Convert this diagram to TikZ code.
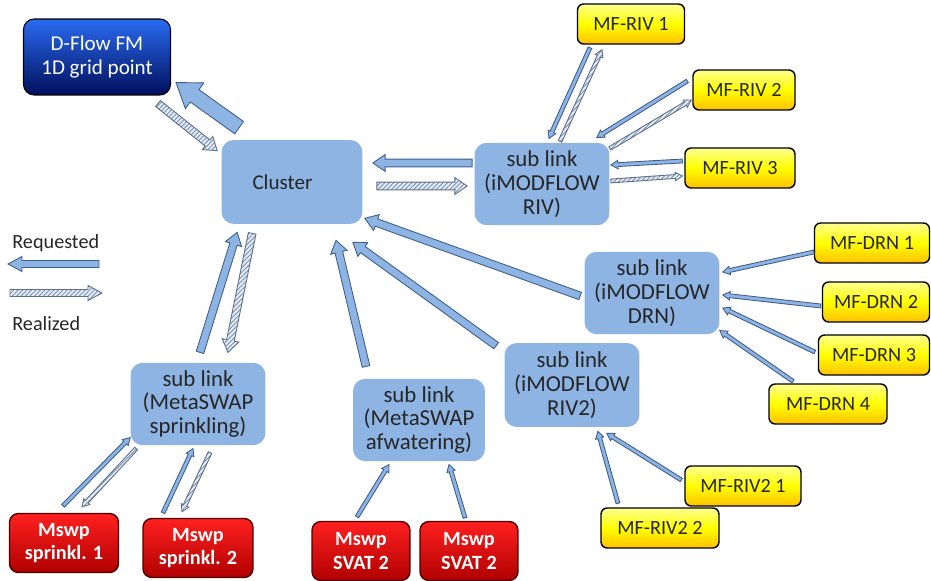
\documentclass[tikz,border=0pt]{standalone}
\usepackage{fontspec}
\setmainfont{Carlito}
\usetikzlibrary{calc,patterns.meta}

\definecolor{subfill}{HTML}{8EB4E3}
\definecolor{reqedge}{HTML}{3F5E8C}
\definecolor{reafill}{HTML}{E4ECF6}
\definecolor{realine}{HTML}{7B8FAE}
\definecolor{reaedge}{HTML}{5F6F86}
\definecolor{flowtop}{HTML}{2A6BF2}
\definecolor{flowbot}{HTML}{000E5C}
\definecolor{mftop}{HTML}{FFFF90}
\definecolor{mfbot}{HTML}{FFC000}
\definecolor{swtop}{HTML}{FF2020}
\definecolor{swbot}{HTML}{B00000}
\definecolor{txt}{HTML}{262626}

% block arrow: style, size, from, to
\newcommand\flowarrow[4]{%
  \begin{scope}[#2]
    \coordinate (fa) at #3;
    \coordinate (fb) at #4;
    \coordinate (fh) at ($(fb)!\arrhl!(fa)$);
    \draw[#1] ($(fa)!\arrsw!90:(fb)$) -- ($(fh)!\arrsw!-90:(fa)$)
      -- ($(fh)!\arrhw!-90:(fa)$) -- (fb) -- ($(fh)!\arrhw!90:(fa)$)
      -- ($(fh)!\arrsw!90:(fa)$) -- ($(fa)!\arrsw!-90:(fb)$) -- cycle;
  \end{scope}}

\tikzset{
  bigarr/.code={\def\arrsw{4.3pt}\def\arrhw{9pt}\def\arrhl{13pt}},
  midarr/.code={\def\arrsw{2.2pt}\def\arrhw{4.8pt}\def\arrhl{7pt}},
  legarr/.code={\def\arrsw{2pt}\def\arrhw{4.3pt}\def\arrhl{8pt}},
  thinarr/.code={\def\arrsw{1.1pt}\def\arrhw{2.4pt}\def\arrhl{4pt}},
  req/.style={fill=subfill, draw=reqedge, line width=0.5pt, line join=miter},
  rea/.style={preaction={fill=reafill}, pattern={Lines[angle=45,distance=1.8pt,line width=0.5pt]},
    pattern color=realine, draw=reaedge, line width=0.5pt},
}

\begin{document}
\begin{tikzpicture}[x=0.02cm, y=-0.02cm,
  sublink/.style={rectangle, rounded corners=7pt, fill=subfill, text=txt, align=center,
    font=\fontsize{13}{13.5}\selectfont, minimum width=2.7cm, minimum height=1.65cm, inner sep=2pt},
  mfbox/.style={rectangle, rounded corners=3.5pt, draw=black, line width=0.8pt,
    top color=mftop, bottom color=mfbot, middle color=yellow, text=txt,
    font=\fontsize{11.5}{13}\selectfont, minimum height=0.8cm, inner sep=1pt},
  swbox/.style={rectangle, rounded corners=5pt, draw=black!70!red, line width=0.8pt,
    top color=swtop, bottom color=swbot, text=white, align=center,
    font=\bfseries\fontsize{11.5}{13.5}\selectfont, minimum width=2.18cm, minimum height=1.18cm, inner sep=1pt},
  flowbox/.style={rectangle, rounded corners=6pt, draw=black, line width=0.6pt,
    top color=flowtop, bottom color=flowbot, text=white, align=center,
    font=\fontsize{12}{14}\selectfont, minimum width=2.94cm, minimum height=1.52cm},
  legend/.style={text=txt, font=\fontsize{11.5}{13}\selectfont, inner sep=0pt, anchor=west}]
\useasboundingbox (0,0) rectangle (931,581);

% boxes
\node[flowbox] (dflow) at (97,57) {D-Flow FM\\1D grid point};
\node[sublink, minimum height=1.68cm, text width=1.58cm, inner xsep=0.62cm, align=left,
  font=\fontsize{12}{13.5}\selectfont] (clu) at (292,182) {Cluster};
\node[sublink] (riv) at (542,184) {sub link\\(iMODFLOW\\RIV)};
\node[sublink] (drn) at (652,293) {sub link\\(iMODFLOW\\DRN)};
\node[sublink, minimum height=1.68cm] (riv2l) at (572,385) {sub link\\(iMODFLOW\\RIV2)};
\node[sublink] (spr) at (198,404) {sub link\\(MetaSWAP\\sprinkling)};
\node[sublink, minimum width=2.64cm] (afw) at (419,420) {sub link\\(MetaSWAP\\afwatering)};

\node[mfbox, minimum width=2.14cm] (riv1) at (631,24) {MF-RIV 1};
\node[mfbox, minimum width=2.04cm] (riv2) at (744,90) {MF-RIV 2};
\node[mfbox, minimum width=2.2cm] (riv3) at (740,168) {MF-RIV 3};
\node[mfbox, minimum width=2.3cm] (drn1) at (872,243) {MF-DRN 1};
\node[mfbox, minimum width=2.14cm] (drn2) at (876,302) {MF-DRN 2};
\node[mfbox, minimum width=2.22cm] (drn3) at (874,355) {MF-DRN 3};
\node[mfbox, minimum width=2.36cm] (drn4) at (828,404) {MF-DRN 4};
\node[mfbox, minimum width=2.32cm] (mfr21) at (743,486) {MF-RIV2 1};
\node[mfbox, minimum width=2.36cm] (mfr22) at (660,528) {MF-RIV2 2};

\node[swbox] (sp1) at (64,543) {Mswp\\sprinkl. 1};
\node[swbox, minimum width=2.2cm] (sp2) at (198,548) {Mswp\\sprinkl. 2};
\node[swbox, minimum width=1.96cm] (sv1) at (361,551) {Mswp\\SVAT 2};
\node[swbox, minimum width=1.96cm] (sv2) at (469,551) {Mswp\\SVAT 2};

% legend
\node[legend] (lreq) at (12,243) {Requested};
\node[legend] (lrea) at (12,324) {Realized};
\coordinate (lreqa) at (99,264);
\coordinate (lreqb) at (8,264);
\coordinate (lreaa) at (10,293);
\coordinate (lreab) at (102,293);
\flowarrow{req}{legarr}{(lreqa)}{(lreqb)}
\flowarrow{rea}{legarr}{(lreaa)}{(lreab)}

% cluster <-> D-Flow FM
\flowarrow{req}{bigarr}{([shift={(18,-12)}]clu.north west)}{([shift={(5,-13)}]dflow.south east)}
\flowarrow{rea}{midarr}{([shift={(-13,8)}]dflow.south east)}{([shift={(-4,11)}]clu.north west)}

% cluster <-> sub links
\flowarrow{req}{midarr}{([shift={(-2,-21)}]riv.west)}{([shift={(10,-19)}]clu.east)}
\flowarrow{rea}{midarr}{([shift={(14,4)}]clu.east)}{([shift={(-7,2)}]riv.west)}
\flowarrow{req}{midarr}{([shift={(-4,3)}]drn.west)}{([shift={(2,-6)}]clu.south east)}
\flowarrow{req}{midarr}{([shift={(-8,3)}]riv2l.north west)}{([shift={(-10,18)}]clu.south east)}
\flowarrow{req}{midarr}{([shift={(-53,-12)}]afw.north)}{([shift={(44,16)}]clu.south)}
\flowarrow{req}{midarr}{([shift={(2,-10)}]spr.north)}{([shift={(16,8)}]clu.south west)}
\flowarrow{rea}{midarr}{([shift={(31,9)}]clu.south west)}{([shift={(30,-10)}]spr.north)}

% iMODFLOW RIV
\flowarrow{req}{thinarr}{([shift={(-41,3)}]riv1.south)}{([shift={(7,-4)}]riv.north)}
\flowarrow{rea}{thinarr}{([shift={(18,-1)}]riv.north)}{([shift={(-29,5)}]riv1.south)}
\flowarrow{req}{thinarr}{([shift={(-5,-9)}]riv2.west)}{([shift={(-13,-5)}]riv.north east)}
\flowarrow{rea}{thinarr}{([shift={(0,6)}]riv.north east)}{([shift={(-1,10)}]riv2.west)}
\flowarrow{req}{thinarr}{([shift={(-2,-7)}]riv3.west)}{([shift={(1,-19)}]riv.east)}
\flowarrow{rea}{thinarr}{([shift={(1,-3)}]riv.east)}{([shift={(-2,8)}]riv3.west)}

% iMODFLOW DRN
\flowarrow{req}{thinarr}{([shift={(0,9)}]drn1.west)}{([shift={(3,-21)}]drn.east)}
\flowarrow{req}{thinarr}{([shift={(-1,4)}]drn2.west)}{([shift={(3,2)}]drn.east)}
\flowarrow{req}{thinarr}{([shift={(-3,-3)}]drn3.west)}{([shift={(3,15)}]drn.east)}
\flowarrow{req}{thinarr}{([shift={(-35,-2)}]drn4.north)}{([shift={(0,-4)}]drn.south east)}

% iMODFLOW RIV2
\flowarrow{req}{thinarr}{([shift={(-3,-6)}]mfr21.west)}{([shift={(-33,6)}]riv2l.south east)}
\flowarrow{req}{thinarr}{([shift={(-42,-4)}]mfr22.north)}{([shift={(-42,4)}]riv2l.south east)}

% MetaSWAP
\flowarrow{req}{thinarr}{([shift={(-1,-7)}]sp1.north)}{([shift={(0,-8)}]spr.south west)}
\flowarrow{rea}{thinarr}{([shift={(6,3)}]spr.south west)}{([shift={(18,-6)}]sp1.north)}
\flowarrow{req}{thinarr}{([shift={(-35,-5)}]sp2.north)}{([shift={(-5,3)}]spr.south)}
\flowarrow{rea}{thinarr}{([shift={(12,7)}]spr.south)}{([shift={(-16,-6)}]sp2.north)}
\flowarrow{req}{thinarr}{([shift={(-4,-4)}]sv1.north)}{([shift={(-30,3)}]afw.south)}
\flowarrow{req}{thinarr}{([shift={(-4,-3)}]sv2.north)}{([shift={(30,3)}]afw.south)}
\end{tikzpicture}
\end{document}
